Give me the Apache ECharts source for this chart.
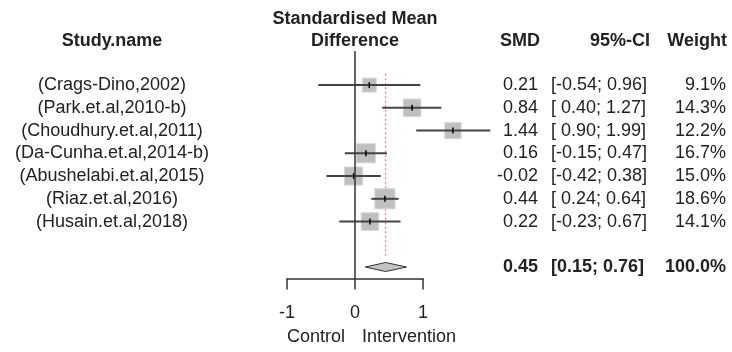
<!DOCTYPE html>
<html>
<head>
<meta charset="utf-8">
<script src="https://cdn.jsdelivr.net/npm/echarts@6/dist/echarts.min.js"></script>
<style>
  html, body { margin: 0; padding: 0; background: #fff; }
  #forest { width: 732px; height: 352px; }
</style>
</head>
<body>
<div id="forest"></div>
<script>
// 数据
var studies = ['(Crags-Dino,2002)', '(Park.et.al,2010-b)', '(Choudhury.et.al,2011)',
    '(Da-Cunha.et.al,2014-b)', '(Abushelabi.et.al,2015)', '(Riaz.et.al,2016)', '(Husain.et.al,2018)'];
var smd = [0.21, 0.84, 1.44, 0.16, -0.02, 0.44, 0.22];
var ciLower = [-0.54, 0.40, 0.90, -0.15, -0.42, 0.24, -0.23];
var ciUpper = [0.96, 1.27, 1.99, 0.47, 0.38, 0.64, 0.67];
var weights = [9.1, 14.3, 12.2, 16.7, 15.0, 18.6, 14.1];
var pooled = [0.45, 0.15, 0.76];   // smd, lower, upper
var pooledWeight = 100.0;
var xTicks = [-1, 0, 1];

var FONT = "'Liberation Sans', Arial, sans-serif";
var TEXT = '#222';

// 行: 空行, 研究, 空行, 合并
var firstRow = 1;
var pooledRow = studies.length + 2;

function fmtCi(v) {
    return (v >= 0 ? ' ' : '') + v.toFixed(2);
}

function buildColumn(fn, pooledText, align) {
    var col = [''];
    for (var i = 0; i < studies.length; i++) col.push(fn(i));
    col.push('');
    col.push(pooledText === '' ? '' : {value: pooledText, textStyle: {fontWeight: 'bold', align: align}});
    return col;
}

var nameCol = buildColumn(function(i) { return studies[i]; }, '', 'center');
var smdCol = buildColumn(function(i) { return smd[i].toFixed(2); }, pooled[0].toFixed(2), 'right');
var ciCol = buildColumn(function(i) { return '[' + fmtCi(ciLower[i]) + '; ' + ciUpper[i].toFixed(2) + ']'; },
    '[' + pooled[1].toFixed(2) + '; ' + pooled[2].toFixed(2) + ']', 'left');
var weightCol = buildColumn(function(i) { return weights[i].toFixed(1) + '%'; }, pooledWeight.toFixed(1) + '%', 'right');

var studyData = studies.map(function(s, i) {
    return [firstRow + i, smd[i], ciLower[i], ciUpper[i], weights[i]];
});

function column(data, position, margin, align) {
    return {
        type: 'category',
        data: data,
        inverse: true,
        position: position,
        axisLine: {show: false, onZero: false},
        axisTick: {show: false},
        splitLine: {show: false},
        axisLabel: {
            interval: 0,
            margin: margin,
            align: align,
            fontSize: 18,
            fontFamily: FONT,
            color: TEXT
        }
    };
}

function header(text, x, y, align, bold) {
    return {
        type: 'text',
        x: x,
        y: y,
        silent: true,
        style: {
            text: text,
            fill: TEXT,
            font: (bold ? 'bold ' : '') + '18px ' + FONT,
            textAlign: align,
            textVerticalAlign: 'middle',
            align: align,
            verticalAlign: 'middle'
        }
    };
}

var chart = echarts.init(document.getElementById('forest'));
chart.setOption({
    animation: false,
    grid: {left: 287, right: 309, top: 51, bottom: 73.6, containLabel: false, outerBoundsMode: 'none'},
    xAxis: {
        type: 'value',
        min: xTicks[0],
        max: xTicks[xTicks.length - 1],
        interval: 1,
        axisLine: {show: true, onZero: false, lineStyle: {color: '#333', width: 1.5}},
        axisTick: {show: true, inside: false, length: 11, lineStyle: {color: '#333', width: 1.5}},
        axisLabel: {fontSize: 18, fontFamily: FONT, color: TEXT, margin: 26},
        splitLine: {show: false}
    },
    yAxis: [
        column(nameCol, 'left', 175, 'center'),
        column(smdCol, 'right', 115, 'right'),
        column(ciCol, 'right', 128, 'left'),
        column(weightCol, 'right', 303, 'right')
    ],
    graphic: [
        header('Standardised Mean', 355, 19.5, 'center', true),
        header('Difference', 355, 41.5, 'center', true),
        header('Study.name', 112, 41, 'center', true),
        header('SMD', 540, 41, 'right', true),
        header('95%-CI', 650, 41, 'right', true),
        header('Weight', 727, 41, 'right', true),
        header('Control', 316, 337, 'center', false),
        header('Intervention', 409, 337, 'center', false)
    ],
    series: [
        {
            // 合并效应参考线
            type: 'custom',
            silent: true,
            clip: false,
            data: [[pooled[0], firstRow, pooledRow]],
            encode: {x: 0, y: [1, 2]},
            renderItem: function(params, api) {
                var band = api.size([0, 1])[1];
                var top = api.coord([api.value(0), api.value(1)]);
                var bottom = api.coord([api.value(0), api.value(2)]);
                return {
                    type: 'line',
                    shape: {x1: top[0], y1: top[1] - band / 2, x2: bottom[0], y2: bottom[1] - band / 2 + 1},
                    style: {stroke: '#ff7373', lineWidth: 1.2, lineDash: [2, 2.5]}
                };
            }
        },
        {
            type: 'custom',
            silent: true,
            clip: false,
            data: studyData,
            encode: {x: [1, 2, 3], y: 0},
            renderItem: function(params, api) {
                var row = api.value(0);
                var c = api.coord([api.value(1), row]);
                var lo = api.coord([api.value(2), row]);
                var hi = api.coord([api.value(3), row]);
                var s = 4.7 * Math.sqrt(api.value(4));
                return {
                    type: 'group',
                    children: [
                        {type: 'rect', shape: {x: c[0] - s / 2, y: c[1] - s / 2, width: s, height: s},
                            style: {fill: '#bfbfbf', stroke: '#dcdcdc', lineWidth: 1}},
                        {type: 'line', shape: {x1: lo[0], y1: c[1], x2: hi[0], y2: c[1]},
                            style: {stroke: '#444', lineWidth: 2}},
                        {type: 'line', shape: {x1: c[0], y1: c[1] - 3, x2: c[0], y2: c[1] + 3},
                            style: {stroke: '#000', lineWidth: 1.5}}
                    ]
                };
            },
            markLine: {
                silent: true,
                symbol: ['none', 'none'],
                label: {show: false},
                lineStyle: {color: '#333', type: 'solid', width: 1.5},
                data: [{xAxis: 0}]
            }
        },
        {
            // 合并效应菱形
            type: 'custom',
            silent: true,
            clip: false,
            data: [[pooledRow, pooled[0], pooled[1], pooled[2]]],
            encode: {x: [1, 2, 3], y: 0},
            renderItem: function(params, api) {
                var row = api.value(0);
                var c = api.coord([api.value(1), row]);
                var lo = api.coord([api.value(2), row]);
                var hi = api.coord([api.value(3), row]);
                return {
                    type: 'polygon',
                    shape: {points: [[lo[0], c[1]], [c[0], c[1] - 4.5], [hi[0], c[1]], [c[0], c[1] + 4.5]]},
                    style: {fill: '#c4c4c4', stroke: '#333', lineWidth: 1}
                };
            }
        }
    ]
});
</script>
</body>
</html>
